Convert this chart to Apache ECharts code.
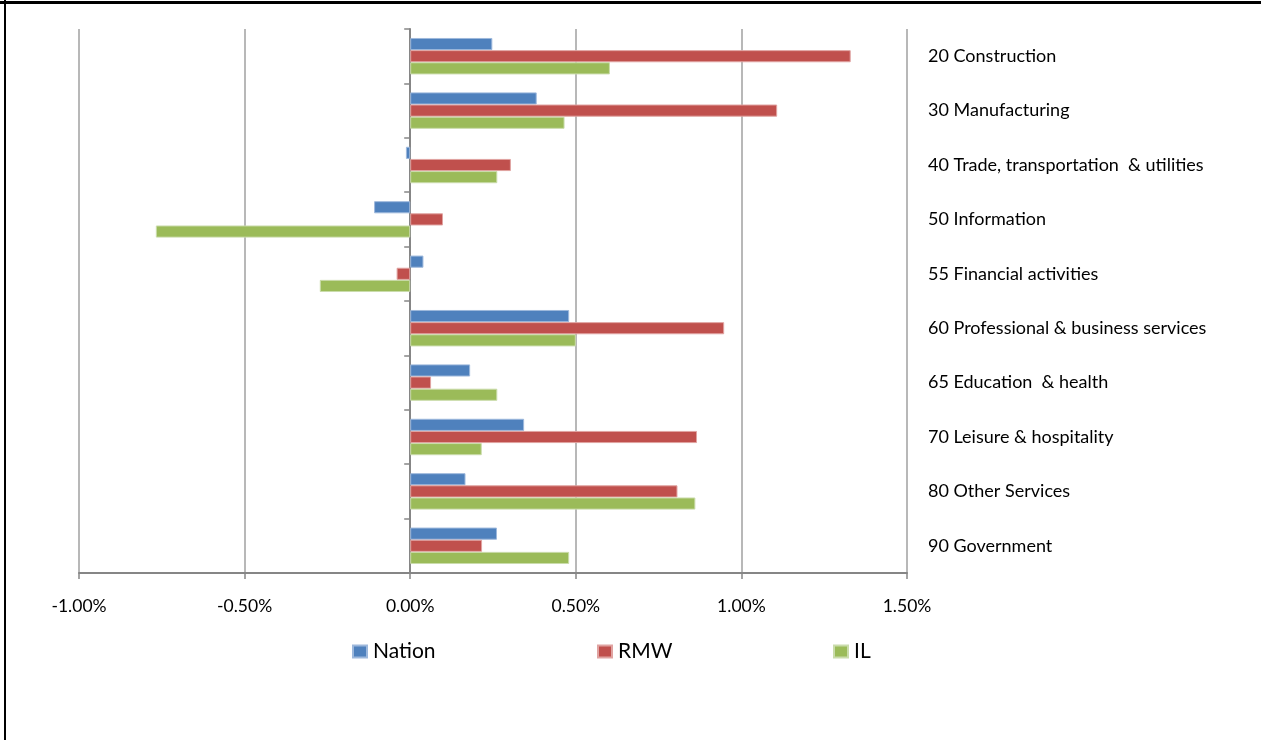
<!DOCTYPE html>
<html>
<head>
<meta charset="utf-8">
<title>Employment growth by sector</title>
<script src="https://cdn.jsdelivr.net/npm/echarts@6/dist/echarts.min.js"></script>
<style>
  html, body { margin: 0; padding: 0; background: #ffffff; }
  #chart { width: 1261px; height: 740px; }
</style>
</head>
<body>
<div id="chart"></div>
<script>
// Sectors, top to bottom
const sectors = [
  '20 Construction',
  '30 Manufacturing',
  '40 Trade, transportation  & utilities',
  '50 Information',
  '55 Financial activities',
  '60 Professional & business services',
  '65 Education  & health',
  '70 Leisure & hospitality',
  '80 Other Services',
  '90 Government'
];

// Growth rates, in percent
const nation = [0.248, 0.382, -0.013, -0.109, 0.040, 0.480, 0.181, 0.344, 0.167, 0.262];
const rmw    = [1.330, 1.108, 0.304, 0.099, -0.041, 0.948, 0.063, 0.866, 0.807, 0.217];
const il     = [0.603, 0.466, 0.263, -0.768, -0.273, 0.500, 0.263, 0.216, 0.861, 0.480];

const seriesNames = ['Nation', 'RMW', 'IL'];
const seriesColors = ['#4F81BD', '#C0504D', '#9BBB59'];
const seriesEdges = ['#9db8dc', '#e0a3a1', '#cadcab'];

// X axis range, in percent
const xMin = -1.0;
const xMax = 1.5;
const xStep = 0.5;

const FONT = 'Lato, "Open Sans", sans-serif';

const chart = echarts.init(document.getElementById('chart'), null, { renderer: 'canvas' });

const seriesData = [nation, rmw, il];

const legendLefts = [352, 597, 833];

chart.setOption({
  animation: false,
  backgroundColor: '#ffffff',
  textStyle: { fontFamily: FONT },
  grid: { left: 79, top: 29, width: 828, height: 544, containLabel: false },
  legend: seriesNames.map((name, i) => ({
    data: [name],
    left: legendLefts[i],
    top: 641,
    padding: 0,
    itemWidth: 14,
    itemHeight: 12,
    icon: 'rect',
    textStyle: { fontFamily: FONT, fontSize: 21, color: '#000000', padding: [0, 0, 0, 1] }
  })),
  xAxis: {
    type: 'value',
    min: xMin,
    max: xMax,
    interval: xStep,
    axisLine: { show: true, onZero: false, lineStyle: { color: '#868686', width: 2 } },
    axisTick: { show: true, length: 6, lineStyle: { color: '#868686', width: 1.5 } },
    axisLabel: {
      margin: 24,
      fontFamily: FONT,
      fontSize: 17.5,
      color: '#000000',
      formatter: v => v.toFixed(2) + '%'
    },
    splitLine: { show: true, lineStyle: { color: '#a0a0a0', width: 1.5 } }
  },
  yAxis: [
    {
      type: 'category',
      data: sectors,
      inverse: true,
      position: 'left',
      axisLine: { show: true, onZero: true, lineStyle: { color: '#868686', width: 2 } },
      axisTick: { show: true, length: 6, inside: false, lineStyle: { color: '#868686', width: 1.5 } },
      axisLabel: { show: false },
      splitLine: { show: false }
    },
    {
      type: 'category',
      data: sectors,
      inverse: true,
      position: 'right',
      axisLine: { show: false, onZero: false },
      axisTick: { show: false },
      axisLabel: {
        show: true,
        margin: 21,
        fontFamily: FONT,
        fontSize: 18,
        color: '#000000',
        padding: [6, 0, 0, 0]
      },
      splitLine: { show: false }
    }
  ],
  series: seriesNames.map((name, i) => ({
    name: name,
    type: 'bar',
    yAxisIndex: 0,
    data: seriesData[i],
    barGap: '0%',
    barCategoryGap: '33%',
    itemStyle: {
      color: seriesColors[i],
      borderColor: seriesEdges[i],
      borderWidth: 1
    },
    emphasis: { disabled: true }
  })),
  graphic: [
    { type: 'line', silent: true, shape: { x1: 0, y1: 2.5, x2: 1261, y2: 2.5 }, style: { stroke: '#000000', lineWidth: 3 } },
    { type: 'line', silent: true, shape: { x1: 5, y1: 0, x2: 5, y2: 740 }, style: { stroke: '#000000', lineWidth: 2 } }
  ]
});
</script>
</body>
</html>
